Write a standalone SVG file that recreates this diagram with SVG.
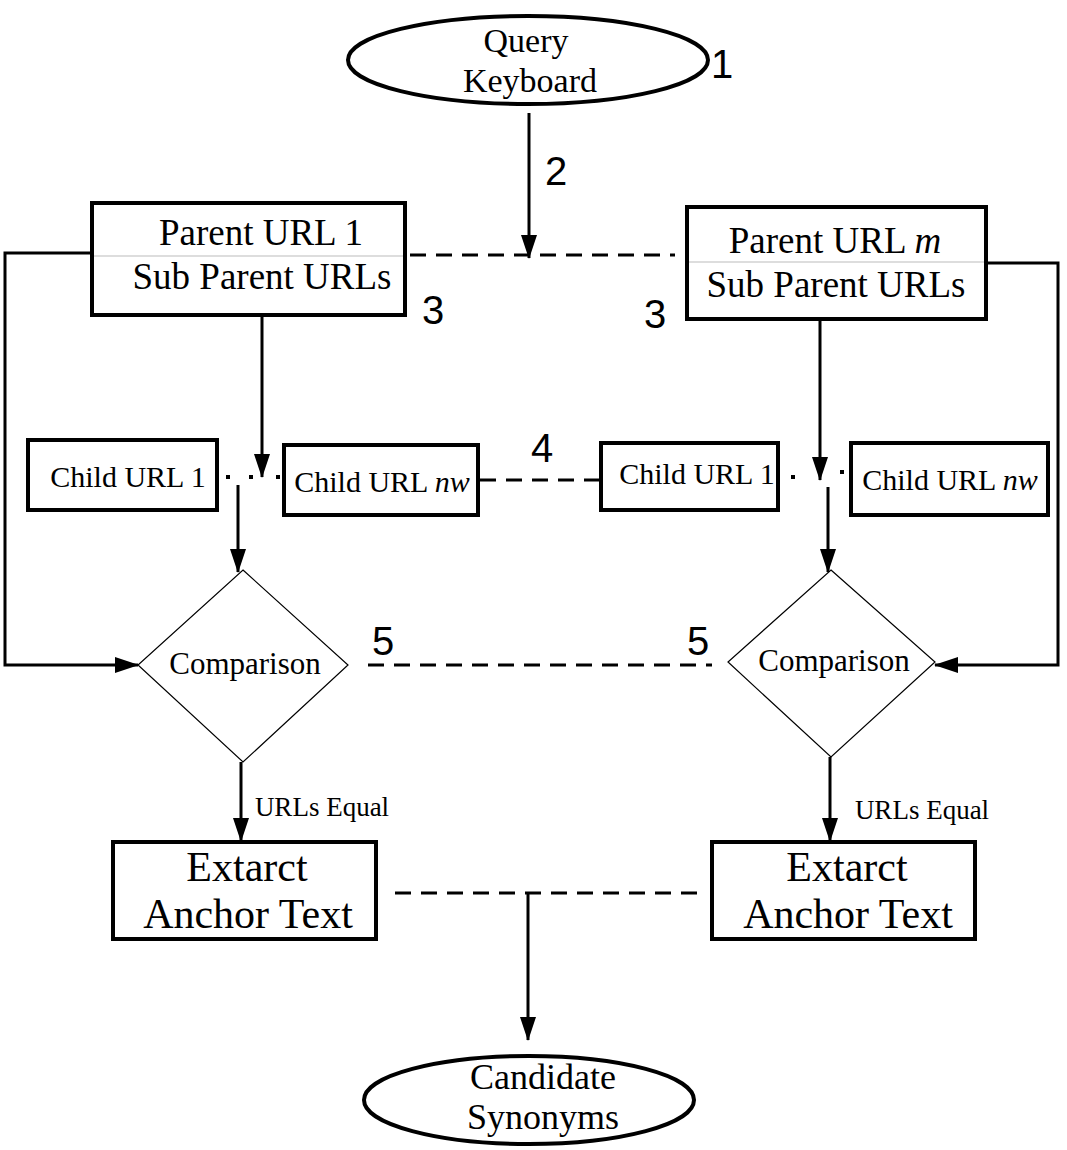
<svg xmlns="http://www.w3.org/2000/svg" width="1067" height="1150" viewBox="0 0 1067 1150">
<defs>
<marker id="ah" markerWidth="24" markerHeight="16" refX="23" refY="8" orient="auto" markerUnits="userSpaceOnUse" viewBox="0 0 24 16"><path d="M0,0 L24,8 L0,16 z" fill="#000"/></marker>
<style>
text{font-family:"Liberation Serif",serif;fill:#000;text-anchor:middle}
.b{fill:#fff;stroke:#000;stroke-width:4}
.d{fill:#fff;stroke:#000;stroke-width:1.2}
.a{fill:none;stroke:#000;stroke-width:3;marker-end:url(#ah)}
.ds{fill:none;stroke:#000;stroke-width:3;stroke-dasharray:16,10}
.g{stroke:#bbb;stroke-width:1}
.n{font-family:"Liberation Sans",sans-serif;font-size:40px}
</style>
</defs>
<rect width="1067" height="1150" fill="#fff"/>
<g id="connectors">
<line class="a" x1="529" y1="113" x2="529" y2="258"/>
<path class="a" d="M92,253 H5 V665 H138" />
<path class="a" d="M988,263 H1058 V665 H935"/>
<line class="ds" x1="410" y1="255" x2="675" y2="255"/>
<line class="a" x1="262" y1="315" x2="262" y2="477"/>
<line class="a" x1="820" y1="318" x2="820" y2="480"/>
<line class="a" x1="238" y1="485" x2="238" y2="572"/>
<line class="a" x1="828" y1="487" x2="828" y2="572"/>
<line class="ds" x1="480" y1="480" x2="600" y2="480"/>
<line class="ds" x1="368" y1="665" x2="712" y2="665"/>
<line class="a" x1="241" y1="762" x2="241" y2="841"/>
<line class="a" x1="830" y1="757" x2="830" y2="841"/>
<line class="ds" x1="395" y1="893" x2="707" y2="893"/>
<line class="a" x1="528" y1="893" x2="528" y2="1040"/>
<g fill="#000"><rect x="226" y="475" width="4" height="4"/><rect x="249" y="475" width="4" height="4"/><rect x="276" y="475" width="4" height="4"/><rect x="791" y="475" width="4" height="4"/><rect x="840" y="470" width="4" height="4"/></g>
</g>
<g id="query"><ellipse class="b" cx="528" cy="60" rx="180" ry="44"/><text x="526" y="52" font-size="34">Query</text><text x="530" y="92" font-size="34">Keyboard</text></g>
<text class="n" x="722" y="78">1</text>
<text class="n" x="556" y="185">2</text>
<g id="p1"><rect class="b" x="92" y="203" width="313" height="112"/><line class="g" x1="94" y1="256" x2="403" y2="256"/><text x="261" y="245" font-size="37">Parent URL 1</text><text x="262" y="289" font-size="37">Sub Parent URLs</text></g>
<g id="pm"><rect class="b" x="687" y="207" width="299" height="112"/><line class="g" x1="689" y1="262" x2="984" y2="262"/><text x="835" y="253" font-size="37">Parent URL <tspan font-style="italic">m</tspan></text><text x="836" y="297" font-size="37">Sub Parent URLs</text></g>
<text class="n" x="433" y="324">3</text>
<text class="n" x="655" y="328">3</text>
<g id="c1"><rect class="b" x="28" y="440" width="189" height="70"/><text x="128" y="487" font-size="30">Child URL 1</text></g>
<g id="cn"><rect class="b" x="284" y="445" width="194" height="70"/><text x="382" y="492" font-size="30">Child URL <tspan font-style="italic">nw</tspan></text></g>
<g id="c1r"><rect class="b" x="601" y="443" width="177" height="67"/><text x="697" y="484" font-size="30">Child URL 1</text></g>
<g id="cnr"><rect class="b" x="851" y="443" width="197" height="72"/><text x="950" y="490" font-size="30">Child URL <tspan font-style="italic">nw</tspan></text></g>
<text class="n" x="542" y="462">4</text>
<g id="cmp1"><polygon class="d" points="243,570 348,665 243,762 138,665"/><text x="245" y="674" font-size="31">Comparison</text></g>
<g id="cmp2"><polygon class="d" points="831,570 935,662 831,757 728,662"/><text x="834" y="671" font-size="31">Comparison</text></g>
<text class="n" x="383" y="655">5</text>
<text class="n" x="698" y="655">5</text>
<text x="322" y="816" font-size="27">URLs Equal</text>
<text x="922" y="819" font-size="27">URLs Equal</text>
<g id="e1"><rect class="b" x="113" y="842" width="263" height="97"/><text x="247" y="881" font-size="42">Extarct</text><text x="248" y="928" font-size="42">Anchor Text</text></g>
<g id="e2"><rect class="b" x="712" y="842" width="263" height="97"/><text x="847" y="881" font-size="42">Extarct</text><text x="848" y="928" font-size="42">Anchor Text</text></g>
<g id="cand"><ellipse class="b" cx="529" cy="1100" rx="165" ry="44"/><text x="543" y="1089" font-size="36">Candidate</text><text x="543" y="1129" font-size="36">Synonyms</text></g>
</svg>
